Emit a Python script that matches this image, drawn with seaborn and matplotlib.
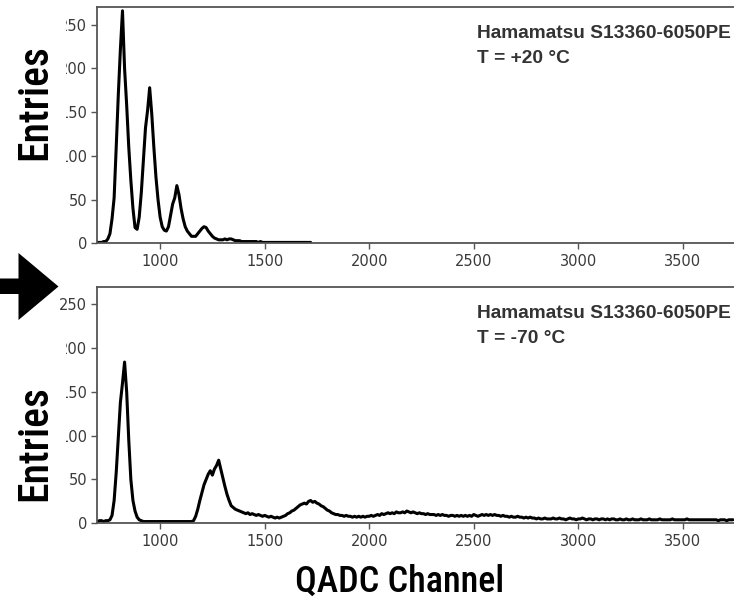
import matplotlib
matplotlib.use("Agg")
import matplotlib.pyplot as plt
from matplotlib.patches import Polygon, Rectangle
import numpy as np
import pandas as pd
import seaborn as sns

# ---------------------------------------------------------------- data
# QADC channel grid (10-channel bins)
channels_warm = np.arange(700, 1730, 10)
channels_cold = np.arange(700, 3750, 10)

# SiPM charge spectrum at +20 degC
counts_warm = [
    1, 1, 1, 2, 2, 5, 11, 28, 52, 110,
    170, 222, 266, 200, 158, 110, 72, 40, 18, 16,
    30, 58, 95, 132, 152, 178, 148, 110, 76, 50,
    30, 19, 15, 14, 19, 32, 45, 52, 66, 56,
    40, 28, 19, 14, 11, 8, 8, 8, 11, 14,
    17, 19, 18, 14, 11, 8, 6, 5, 4, 4,
    4, 5, 4, 5, 5, 4, 3, 3, 3, 2,
    2, 2, 2, 2, 2, 2, 2, 1, 2, 1,
    1, 1, 1, 1, 1, 1, 1, 1, 1, 1,
    1, 1, 1, 1, 1, 1, 1, 1, 1, 1,
    1, 1, 1,
]

# SiPM charge spectrum at -70 degC
counts_cold = [
    2, 3, 3, 2, 3, 3, 4, 9, 26, 58,
    98, 138, 160, 184, 150, 95, 50, 26, 14, 7,
    4, 3, 2, 2, 2, 2, 2, 2, 2, 2,
    2, 2, 2, 2, 2, 2, 2, 2, 2, 2,
    2, 2, 2, 2, 2, 2, 3, 8, 16, 26,
    35, 44, 50, 56, 60, 55, 62, 66, 72, 62,
    52, 42, 33, 26, 20, 18, 16, 15, 14, 13,
    12, 11, 12, 10, 11, 10, 9, 10, 9, 8,
    9, 8, 7, 8, 7, 6, 7, 6, 7, 8,
    9, 11, 12, 14, 15, 17, 19, 21, 22, 23,
    22, 25, 26, 24, 25, 23, 22, 20, 19, 17,
    15, 14, 12, 11, 10, 10, 9, 9, 8, 9,
    8, 8, 7, 8, 7, 8, 7, 8, 7, 8,
    8, 9, 8, 9, 10, 9, 11, 10, 11, 12,
    11, 12, 11, 13, 12, 12, 13, 12, 14, 13,
    12, 13, 12, 11, 12, 11, 11, 10, 11, 10,
    10, 10, 9, 10, 9, 10, 9, 9, 8, 9,
    9, 8, 9, 8, 9, 8, 9, 8, 9, 8,
    10, 9, 8, 9, 10, 9, 10, 9, 10, 9,
    10, 9, 9, 8, 9, 8, 8, 7, 8, 7,
    7, 8, 7, 7, 6, 7, 6, 7, 6, 6,
    5, 6, 5, 5, 6, 5, 5, 5, 6, 5,
    5, 6, 5, 5, 4, 5, 6, 5, 5, 4,
    5, 5, 6, 5, 4, 5, 5, 4, 5, 5,
    4, 5, 5, 4, 5, 4, 5, 5, 4, 4,
    5, 4, 4, 5, 4, 4, 5, 4, 4, 4,
    5, 4, 4, 4, 5, 4, 4, 4, 4, 5,
    4, 4, 4, 4, 4, 5, 4, 4, 4, 4,
    4, 4, 5, 4, 4, 4, 4, 4, 4, 4,
    4, 4, 4, 4, 4, 4, 4, 3, 4, 4,
    4, 3, 4, 4, 4,
]

panel_titles = ["Hamamatsu S13360-6050PE", "Hamamatsu S13360-6050PE"]
panel_temps = ["T = +20 °C", "T = -70 °C"]
x_ticks = [1000, 1500, 2000, 2500, 3000, 3500]
y_ticks = [0, 50, 100, 150, 200, 250]

# ---------------------------------------------------------------- style
sns.set_style("ticks")
plt.rcParams["font.family"] = ["DejaVu Sans"]

W, H = 734, 603
fig = plt.figure(figsize=(W / 100, H / 100), dpi=100)


def px_box(left, top, right, bottom):
    """Pixel box (origin top-left) -> figure-fraction rect."""
    return [left / W, 1 - bottom / H, (right - left) / W, (bottom - top) / H]


def px(x, y):
    return (x / W, 1 - y / H)


label_family = ["Roboto Condensed", "Liberation Sans Narrow", "DejaVu Sans"]
spine_col = "#555555"

frames = [
    (px_box(97.4, 7.3, 734, 243.3), channels_warm, counts_warm, 0),
    (px_box(97.4, 286.7, 734, 523.3), channels_cold, counts_cold, 1),
]

for rect, xs, ys, i in frames:
    ax = fig.add_axes(rect)
    df = pd.DataFrame({"channel": xs, "entries": ys})
    sns.lineplot(data=df, x="channel", y="entries", ax=ax,
                 color="black", linewidth=2.2)
    ax.set_xlim(700, 3745)
    ax.set_ylim(0, 270)
    ax.set_xticks(x_ticks)
    ax.set_yticks(y_ticks)
    ax.set_xlabel("")
    ax.set_ylabel("")
    for side in ["left", "bottom", "top"]:
        ax.spines[side].set_visible(True)
        ax.spines[side].set_color(spine_col)
        ax.spines[side].set_linewidth(1.3)
    ax.spines["right"].set_visible(False)
    ax.tick_params(axis="both", direction="out", length=4.5, width=1.0,
                   color=spine_col, labelcolor="#3a3a3a", labelsize=10.5,
                   pad=3)
    ax.text(0.5963, 0.868, panel_titles[i], transform=ax.transAxes,
            ha="left", va="baseline", fontsize=13.8, fontweight="bold",
            family="Liberation Sans", color="#333333")
    ax.text(0.5963, 0.762, panel_temps[i], transform=ax.transAxes,
            ha="left", va="baseline", fontsize=13.8, fontweight="bold",
            family="Liberation Sans", color="#333333")

# white panels behind the axis titles
for top, bottom in [(0, 235), (318, 515)]:
    x0, y0 = px(0, bottom)
    fig.patches.append(Rectangle((x0, y0), 66 / W, (bottom - top) / H,
                                 transform=fig.transFigure,
                                 facecolor="white", edgecolor="none",
                                 zorder=2))

# arrow pointing from the warm to the cold spectrum
arrow_pts = [px(-5, 278.5), px(18.5, 278.5), px(18.5, 253), px(58.5, 286.5),
             px(18.5, 320), px(18.5, 294), px(-5, 294)]
fig.patches.append(Polygon(arrow_pts, closed=True, transform=fig.transFigure,
                           facecolor="black", edgecolor="none", zorder=3))

for yc in (102.0, 443.0):
    fig.text(*px(34.5, yc), "Entries", rotation=90, ha="center", va="center",
             fontsize=30, fontweight="medium", family=label_family,
             color="black", zorder=4)

fig.text(*px(400, 592), "QADC Channel", ha="center", va="baseline",
         fontsize=26, fontweight="medium", family=label_family,
         color="black", zorder=4)

fig.savefig("out.png", dpi=100)
